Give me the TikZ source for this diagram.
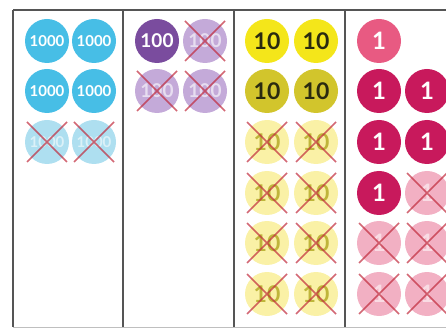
\documentclass[tikz,border=0pt]{standalone}
\usepackage{fontspec}
\setmainfont{Lato}
\definecolor{thouC}{HTML}{47BEE6}
\definecolor{thouF}{HTML}{AEDFF0}
\definecolor{hundC}{HTML}{7A4C9E}
\definecolor{hundF}{HTML}{C4AAD9}
\definecolor{tenC}{HTML}{F4E61A}
\definecolor{tenD}{HTML}{D2C52C}
\definecolor{tenF}{HTML}{FAF1A6}
\definecolor{tenT}{HTML}{2A2A10}
\definecolor{oneL}{HTML}{E85A82}
\definecolor{oneC}{HTML}{C8195C}
\definecolor{oneF}{HTML}{F2B0C3}
\definecolor{crossC}{HTML}{C0283A}
\definecolor{ruleC}{HTML}{555555}

\begin{document}
\begin{tikzpicture}[
    x=1pt, y=-1pt,
    ctr/.style   = {circle, minimum size=44pt, inner sep=0pt},
    thou/.style  = {ctr, fill=thouC, text=white,
                    font=\bfseries\fontsize{15}{15}\selectfont},
    hund/.style  = {ctr, fill=hundC, text=white,
                    font=\bfseries\fontsize{19}{19}\selectfont},
    ten/.style   = {ctr, fill=tenC, text=tenT,
                    font=\bfseries\fontsize{23}{23}\selectfont},
    one/.style   = {ctr, fill=oneC, text=white,
                    font=\bfseries\fontsize{24}{24}\selectfont},
    thougone/.style = {thou, fill=thouF, text=white!55!thouF},
    hundgone/.style = {hund, fill=hundF, text=white!60!hundF},
    tengone/.style  = {ten, fill=tenF, text=olive!55!tenF},
    onegone/.style  = {one, fill=oneF, text=white!55!oneF},
    cross/.style = {draw=crossC, line width=1.5pt, opacity=.7},
    rule/.style  = {draw=ruleC, line width=1.3pt},
  ]
  \useasboundingbox (0,0) rectangle (446,328);
  \clip (0,0) rectangle (446,328);
  % place value columns
  \draw[rule] (13,10) -- (446,10);
  \foreach \x in {13,123,234,345}
    \draw[rule] (\x,10) -- (\x,327);
  \draw[draw=black!25, line width=1pt] (13,327) -- (446,327);
  % thousands
  \foreach \r/\y in {1/41,2/91}
    \foreach \c/\x in {1/47,2/94}
      \node[thou] (th-\r-\c) at (\x,\y) {1000};
  \node[thougone] (th-3-1) at (47,142) {1000};
  \node[thougone] (th-3-2) at (94,142) {1000};
  % hundreds
  \node[hund]     (hu-1-1) at (157,41) {100};
  \node[hundgone] (hu-1-2) at (205,41) {100};
  \node[hundgone] (hu-2-1) at (157,91) {100};
  \node[hundgone] (hu-2-2) at (205,91) {100};
  % tens
  \node[ten]            (te-1-1) at (267,41) {10};
  \node[ten]            (te-1-2) at (316,41) {10};
  \node[ten, fill=tenD] (te-2-1) at (267,91) {10};
  \node[ten, fill=tenD] (te-2-2) at (316,91) {10};
  \foreach \r/\y in {3/142,4/193,5/243,6/294}
    \foreach \c/\x in {1/267,2/316}
      \node[tengone] (te-\r-\c) at (\x,\y) {10};
  % ones
  \node[one, fill=oneL] (on-1-1) at (379,41) {1};
  \foreach \r/\y in {2/91,3/142}
    \foreach \c/\x in {1/379,2/427}
      \node[one] (on-\r-\c) at (\x,\y) {1};
  \node[one]     (on-4-1) at (379,193) {1};
  \node[onegone] (on-4-2) at (427,193) {1};
  \foreach \r/\y in {5/243,6/294}
    \foreach \c/\x in {1/379,2/427}
      \node[onegone] (on-\r-\c) at (\x,\y) {1};
  % crossings out
  \foreach \n in {th-3-1,th-3-2,hu-1-2,hu-2-1,hu-2-2,
                  te-3-1,te-3-2,te-4-1,te-4-2,te-5-1,te-5-2,te-6-1,te-6-2,
                  on-4-2,on-5-1,on-5-2,on-6-1,on-6-2}
    \draw[cross] ([shift={(-20,-20)}]\n.center) -- ([shift={(20,20)}]\n.center)
                 ([shift={(-20,20)}]\n.center) -- ([shift={(20,-20)}]\n.center);
\end{tikzpicture}
\end{document}
